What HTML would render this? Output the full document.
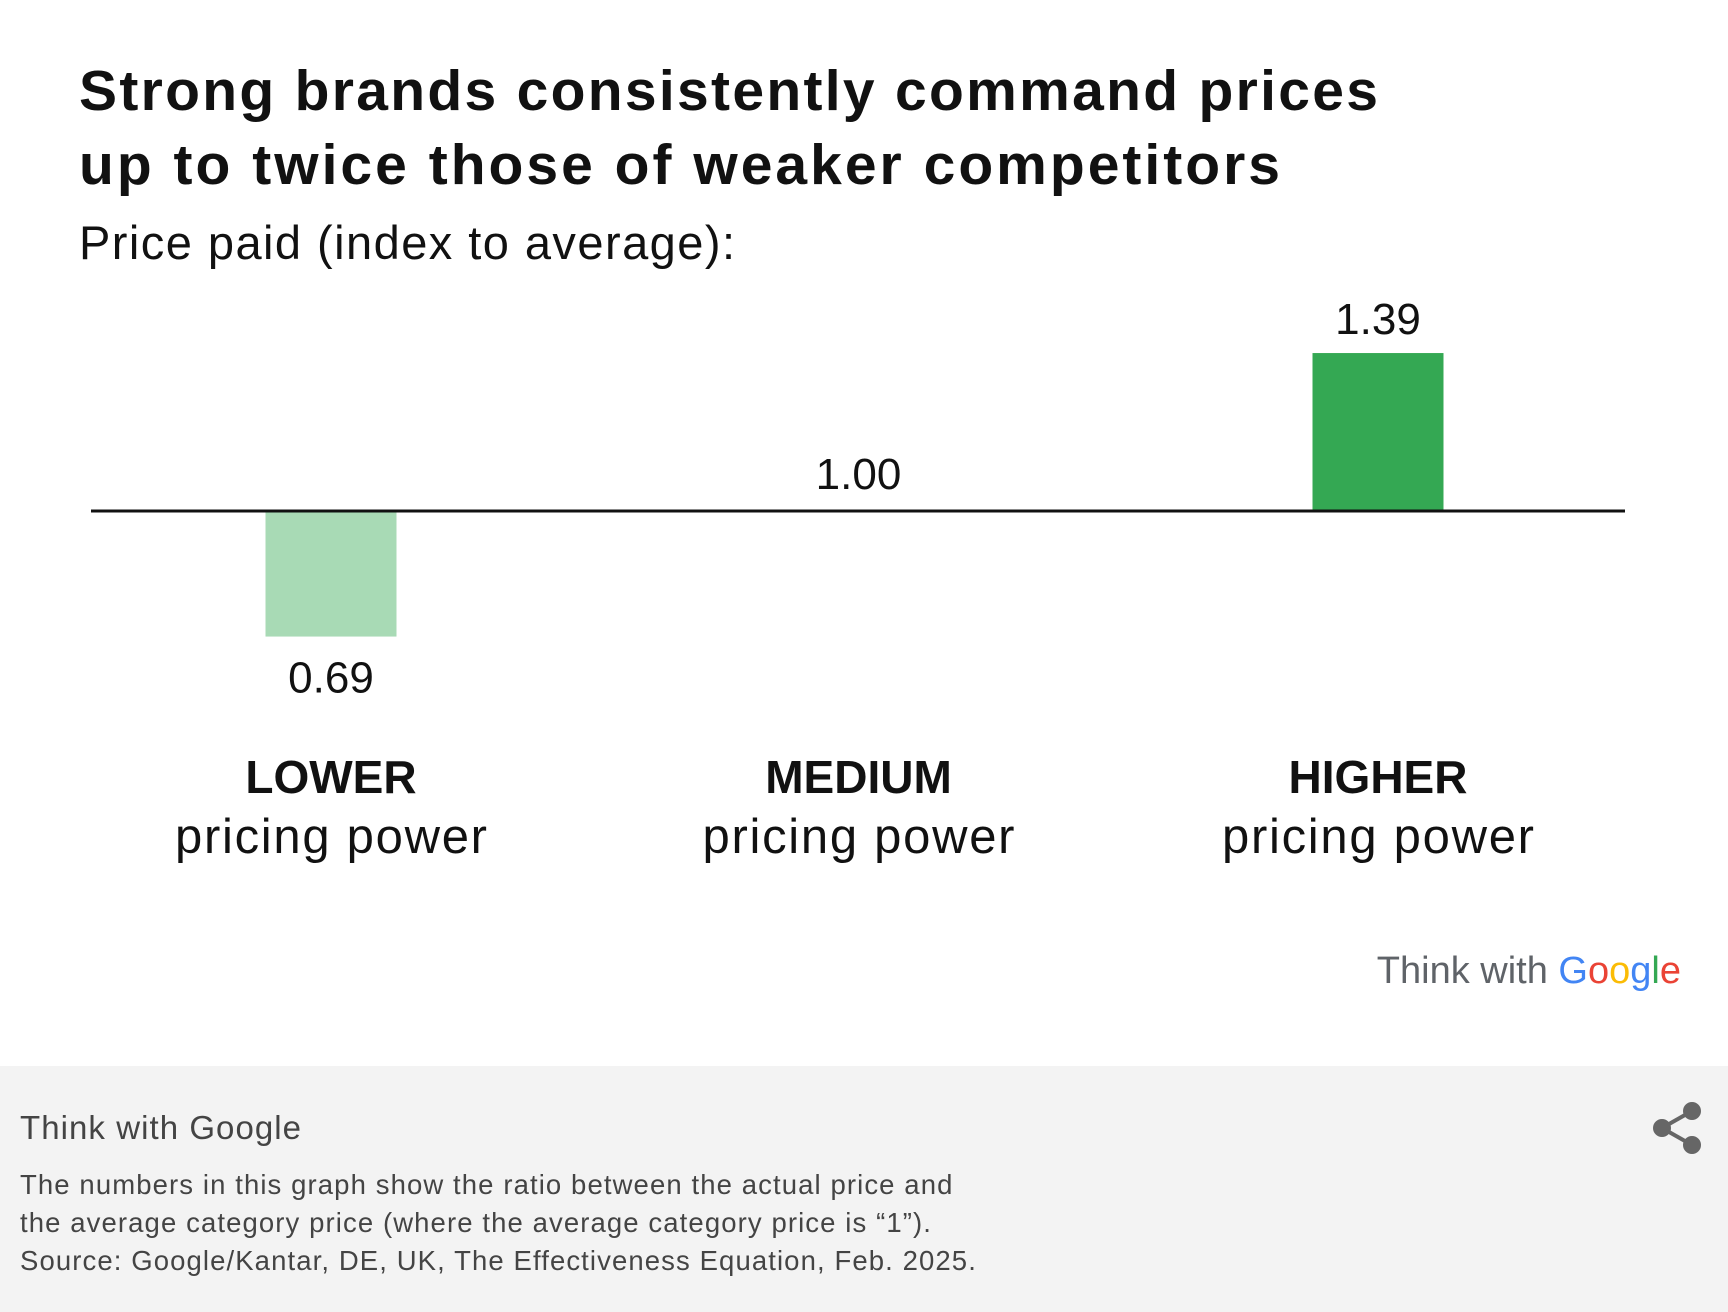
<!DOCTYPE html>
<html><head><meta charset="utf-8"><style>
html,body{margin:0;padding:0;width:1728px;height:1312px;overflow:hidden;background:#fff;font-family:"Liberation Sans",sans-serif;}
svg{display:block}
</style></head><body>
<svg width="1728" height="1312" viewBox="0 0 1728 1312">
<text x="79" y="110" font-size="57" font-weight="bold" fill="#111" textLength="1299" lengthAdjust="spacing">Strong brands consistently command prices</text>
<text x="79" y="184" font-size="57" font-weight="bold" fill="#111" textLength="1201" lengthAdjust="spacing">up to twice those of weaker competitors</text>
<text x="79" y="259" font-size="47" fill="#111" textLength="656" lengthAdjust="spacing">Price paid (index to average):</text>
<g id="plot"></g>
<text x="1681" y="983" font-size="38" text-anchor="end"><tspan fill="#5f6368">Think with </tspan><tspan fill="#4285f4">G</tspan><tspan fill="#ea4335">o</tspan><tspan fill="#fbbc05">o</tspan><tspan fill="#4285f4">g</tspan><tspan fill="#34a853">l</tspan><tspan fill="#ea4335">e</tspan></text>
<rect x="0" y="1066" width="1728" height="246" fill="#f3f3f3"/>
<text x="20" y="1139" font-size="33" fill="#444" textLength="281" lengthAdjust="spacing">Think with Google</text>
<g font-size="27.5" fill="#444" letter-spacing="1.1">
<text x="20" y="1194">The numbers in this graph show the ratio between the actual price and</text>
<text x="20" y="1232">the average category price (where the average category price is “1”).</text>
<text x="20" y="1270">Source: Google/Kantar, DE, UK, The Effectiveness Equation, Feb. 2025.</text>
</g>
<g stroke="#666" stroke-width="4" fill="#666">
<line x1="1662" y1="1128" x2="1692" y2="1111"/><line x1="1662" y1="1128" x2="1692" y2="1145"/>
<circle cx="1662" cy="1128" r="7"/><circle cx="1692" cy="1111" r="7"/><circle cx="1692" cy="1145" r="7"/>
</g>
</svg>
<script>
const categories=["LOWER","MEDIUM","HIGHER"];
const values=[0.69,1.00,1.39];
const labels=["0.69","1.00","1.39"];
const colors=["#a8dab5","#34a853","#34a853"];
const NS="http://www.w3.org/2000/svg";
const g=document.getElementById("plot");
const baseY=511, pxPerUnit=405, barW=131;
const xCenter=i=>331+i*523.5+(i===1?4:0);
const yScale=v=>baseY-(v-1)*pxPerUnit;
function mk(t,a){const e=document.createElementNS(NS,t);for(const k in a)e.setAttribute(k,a[k]);g.appendChild(e);return e;}
values.forEach((v,i)=>{
  const y=yScale(v), top=Math.min(y,baseY), h=Math.abs(y-baseY);
  if(h>0){const r=mk("rect",{x:xCenter(i)-barW/2,y:top,width:barW,height:h,fill:colors[i]});
  
  }
  let ly;
  if(v>1) ly=top-19; else if(v===1) ly=baseY-22; else ly=baseY+h+56;
  const t=mk("text",{x:xCenter(i),y:ly,"font-size":44,"text-anchor":"middle",fill:"#111"});
  t.textContent=labels[i];
  
  
  const c=mk("text",{x:xCenter(i),y:793,"font-size":46,"font-weight":"bold","text-anchor":"middle",fill:"#111"});
  c.textContent=categories[i];
  
  
  const s=mk("text",{x:xCenter(i),y:853,"font-size":49,"text-anchor":"middle",fill:"#111",textLength:312,lengthAdjust:"spacing"});
  s.textContent="pricing power";
  
  
});
const ax=mk("line",{x1:91,x2:1625,y1:baseY,y2:baseY,stroke:"#111","stroke-width":3});


</script>
</body></html>
